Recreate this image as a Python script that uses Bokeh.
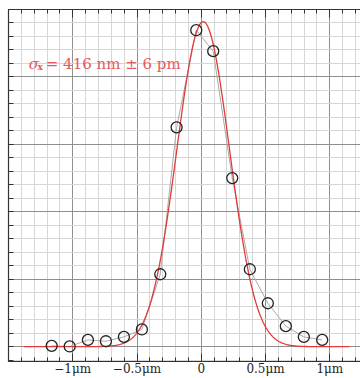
import numpy as np
from bokeh.plotting import figure
from bokeh.models import LinearAxis, FixedTicker, Range1d, Label, Grid, ColumnDataSource
from bokeh.embed import file_html
from bokeh.resources import INLINE

# measured profile (position in µm, intensity in arbitrary units)
pos_um = [-1.164, -1.024, -0.882, -0.742, -0.602, -0.462, -0.319, -0.192,
          -0.039, 0.093, 0.241, 0.378, 0.518, 0.658, 0.798, 0.941]
intensity = [0.012, 0.003, 0.10, 0.08, 0.145, 0.255, 1.074, 3.252,
             4.693, 4.382, 2.50, 1.148, 0.644, 0.304, 0.145, 0.10]

# Gaussian fit parameters
fit_amp = 4.82
fit_center = 0.015
fit_sigma = 0.205
fit_xmin, fit_xmax = -1.38, 1.15

x_major = [-1.0, -0.5, 0.0, 0.5, 1.0]
x_minor = [round(-1.5 + 0.1 * i, 2) for i in range(28)]
x_labels = {-1.0: "\u22121\u03bcm", -0.5: "\u22120.5\u03bcm", 0.0: "0", 0.5: "0.5\u03bcm", 1.0: "1\u03bcm"}
y_major = [0, 1, 2, 3, 4, 5]
y_minor = [round(-0.2 + 0.2 * i, 2) for i in range(27)]

annot_text = "= 416 nm \u00b1 6 pm"

RED = "#e23b3b"
TXT_RED = "#e55a5a"

p = figure(width=360, height=378,
           x_range=Range1d(-1.5, 1.239), y_range=Range1d(-0.22, 5.0),
           x_axis_type=None, y_axis_type=None,
           output_backend="svg", toolbar_location=None,
           min_border_left=8, min_border_right=0, min_border_top=9, min_border_bottom=0)
p.outline_line_color = None
p.background_fill_color = "white"

xt = FixedTicker(ticks=x_major, minor_ticks=x_minor)
yt = FixedTicker(ticks=y_major, minor_ticks=y_minor)

p.add_layout(Grid(dimension=0, ticker=xt, grid_line_color="#8f8f8f", grid_line_width=1,
                  minor_grid_line_color="#d6d6d6", minor_grid_line_width=1))
p.add_layout(Grid(dimension=1, ticker=yt, grid_line_color="#8f8f8f", grid_line_width=1,
                  minor_grid_line_color="#d6d6d6", minor_grid_line_width=1))

axis_style = dict(axis_line_color="#333333", axis_line_width=1.2,
                  major_tick_line_color="#333333", minor_tick_line_color="#333333",
                  major_tick_out=0, minor_tick_out=0)

xb = LinearAxis(ticker=xt, major_label_overrides=x_labels, major_tick_in=8, minor_tick_in=4,
                major_label_standoff=0, major_label_text_font="DejaVu Serif",
                major_label_text_font_size="12px", major_label_text_color="#222222", **axis_style)
p.add_layout(xb, "below")

xa = LinearAxis(ticker=xt, major_tick_in=8, minor_tick_in=4, major_label_standoff=0,
                major_label_text_font_size="0px", major_label_text_color=None, **axis_style)
p.add_layout(xa, "above")

yl = LinearAxis(ticker=yt, major_tick_in=5, minor_tick_in=5, major_label_standoff=0,
                major_label_text_font_size="0px", major_label_text_color=None, **axis_style)
p.add_layout(yl, "left")

src = ColumnDataSource(dict(x=pos_um, y=intensity))
p.line("x", "y", source=src, line_color="#aaaaaa", line_width=1)

xf = np.linspace(fit_xmin, fit_xmax, 400)
yf = fit_amp * np.exp(-(xf - fit_center) ** 2 / (2 * fit_sigma ** 2))
p.line(xf, yf, line_color=RED, line_width=1.3)

p.scatter("x", "y", source=src, marker="circle", size=11, fill_color=None,
          line_color="#222222", line_width=1.3)

p.add_layout(Label(x=-1.343, y=4.19, text="\u03c3", text_font="DejaVu Serif",
                   text_font_style="italic", text_font_size="15px", text_color=TXT_RED,
                   text_baseline="alphabetic"))
p.add_layout(Label(x=-1.275, y=4.15, text="x", text_font="DejaVu Serif",
                   text_font_style="bold", text_font_size="9px", text_color=TXT_RED,
                   text_baseline="alphabetic"))
p.add_layout(Label(x=-1.21, y=4.19, text=annot_text, text_font="DejaVu Serif",
                   text_font_size="15px", text_color=TXT_RED, text_baseline="alphabetic"))

open("out.html", "w").write(file_html(p, INLINE))
